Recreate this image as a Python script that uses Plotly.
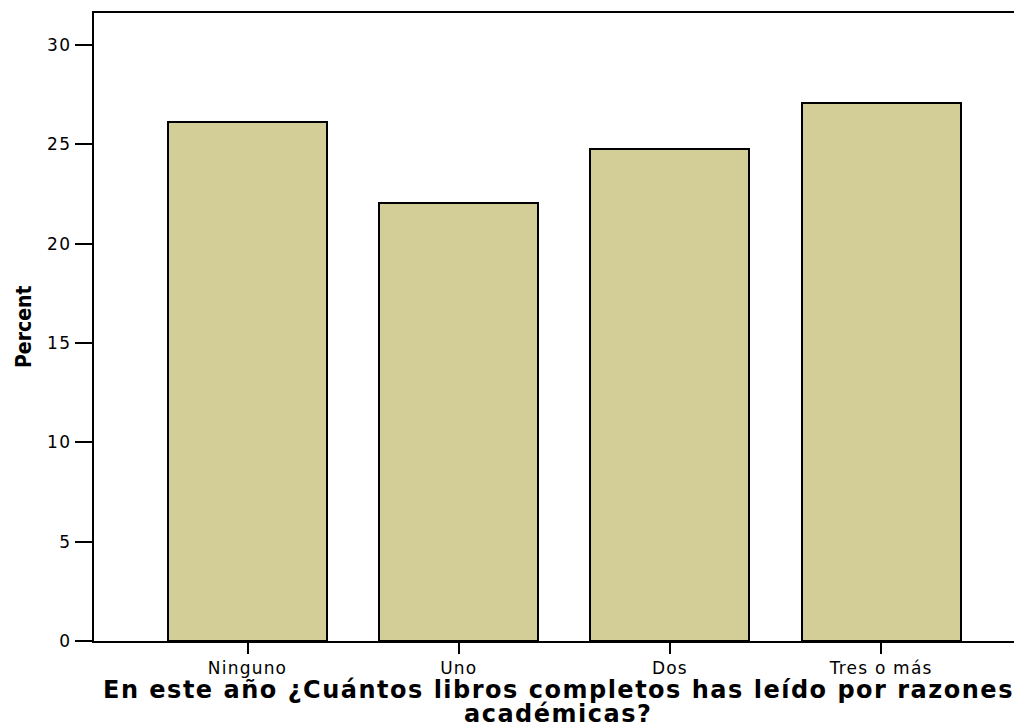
import plotly.graph_objects as go

categories = ["Ninguno", "Uno", "Dos", "Tres o más"]
percent = [26.12, 22.05, 24.76, 27.08]
y_ticks = [0, 5, 10, 15, 20, 25, 30]
x_title_lines = ["En este año ¿Cuántos libros completos has leído por razones", "académicas?"]
y_title = "Percent"

def spaced(s, px):
    return f'<span style="letter-spacing:{px}px">{s}</span>'

fig = go.Figure()
fig.add_trace(go.Bar(
    x=categories, y=percent, width=0.753,
    marker=dict(color="rgb(211,206,151)", line=dict(color="black", width=2)),
))

# the page body has an 8px margin; the figure is sized so the plot lands where the reference has it
W, H = 1014, 720
ml, mr, mt, mb = 86, 0, 5, 87

fig.update_layout(
    width=W, height=H,
    margin=dict(l=ml, r=mr, t=mt, b=mb),
    paper_bgcolor="white", plot_bgcolor="white",
    showlegend=False,
    bargap=0,
    font=dict(family="DejaVu Sans", color="black", size=17),
    xaxis=dict(
        type="category", range=[-0.727, 3.667],
        tickvals=categories, ticktext=[spaced(c, 1.2) for c in categories],
        showline=True, linecolor="black", linewidth=2, mirror=True,
        ticks="outside", ticklen=11, tickwidth=2, tickcolor="black",
        tickfont=dict(family="DejaVu Sans", size=17, color="black"),
        showgrid=False, zeroline=False,
    ),
    yaxis=dict(
        range=[0, 31.61],
        tickvals=y_ticks,
        ticktext=[spaced(str(v), 1.5) for v in y_ticks],
        showline=True, linecolor="black", linewidth=2, mirror=False,
        ticks="outside", ticklen=17, tickwidth=2, tickcolor="black",
        tickfont=dict(family="DejaVu Sans", size=17, color="black"),
        showgrid=False, zeroline=False,
    ),
    annotations=[
        dict(text=spaced(x_title_lines[0], 1.5), xref="paper", yref="paper", x=0.5, y=0,
             xanchor="center", yanchor="middle", yshift=-49, showarrow=False,
             font=dict(family="DejaVu Sans", size=24, color="black", weight="bold")),
        dict(text=spaced(x_title_lines[1], 1.5), xref="paper", yref="paper", x=0.5, y=0,
             xanchor="center", yanchor="middle", yshift=-73, showarrow=False,
             font=dict(family="DejaVu Sans", size=24, color="black", weight="bold")),
        dict(text=y_title, xref="paper", yref="paper", x=0, y=0.5,
             xanchor="center", yanchor="middle", xshift=-70, textangle=-90, showarrow=False,
             font=dict(family="Liberation Sans Narrow, DejaVu Sans Condensed, Arial Narrow",
                       size=21, color="black", weight="bold")),
    ],
)

fig.write_html("out.html")
